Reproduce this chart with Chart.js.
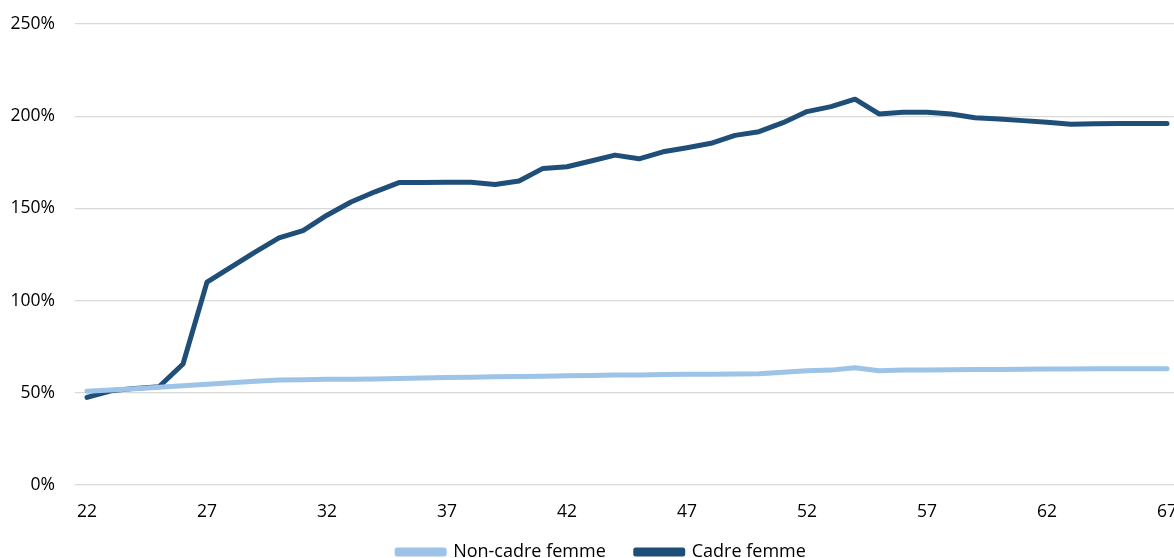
<!DOCTYPE html>
<html lang="fr">
<head>
<meta charset="utf-8">
<title>Cadre / non-cadre femme</title>
<script src="https://cdn.jsdelivr.net/npm/chart.js@4"></script>
<style>
  html, body { margin: 0; padding: 0; background: #ffffff; overflow: hidden; }
  #wrap { width: 1179px; height: 583px; }
</style>
</head>
<body>
<div id="wrap"><canvas id="c" width="1179" height="583"></canvas></div>
<script>
// Âges (axe horizontal)
const ages = [22,23,24,25,26,27,28,29,30,31,32,33,34,35,36,37,38,39,40,41,42,43,44,45,46,47,48,49,50,51,52,53,54,55,56,57,58,59,60,61,62,63,64,65,66,67];

// Séries, en %
const nonCadreFemme = [50.9,51.5,52.2,53.0,53.8,54.6,55.5,56.2,56.9,57.1,
                       57.3,57.4,57.5,57.7,58.0,58.3,58.5,58.7,58.8,59.0,
                       59.2,59.4,59.6,59.7,59.9,60.0,60.1,60.2,60.3,61.1,
                       62.0,62.3,63.6,62.0,62.4,62.4,62.5,62.6,62.7,62.8,
                       62.9,62.9,63.0,63.0,63.1,63.1];
const cadreFemme = [47.5,51.1,52.4,53.3,65.6,110,118.2,126.3,134,138,
                    146.3,153.5,159,164,164,164.2,164.2,163,164.9,171.7,
                    172.6,175.7,178.9,176.9,180.7,182.9,185.3,189.6,191.6,196.5,
                    202.5,205.2,209.2,201.2,202.1,202.1,201.2,199.2,198.5,197.6,
                    196.7,195.6,195.9,196.1,196.1,196.1];

// Graduations de l'axe vertical
const yTicks = [0, 50, 100, 150, 200, 250];
const seriesNames = ['Non-cadre femme', 'Cadre femme'];

const FONT = '"Open Sans", "DejaVu Sans", sans-serif';

// Recale la légende : un peu à droite et plus près de l'axe
const legendShift = {
  id: 'legendShift',
  afterLayout(chart) {
    const lg = chart.legend;
    if (lg) {
      lg.left += 12; lg.right += 12;
      lg.top -= 12; lg.bottom -= 12;
    }
  }
};

new Chart(document.getElementById('c'), {
  type: 'line',
  data: {
    labels: ages,
    datasets: [
      {
        label: seriesNames[0],
        data: nonCadreFemme,
        borderColor: '#9DC3E6',
        backgroundColor: '#9DC3E6',
        borderWidth: 5,
        borderCapStyle: 'round',
        borderJoinStyle: 'round',
        pointRadius: 0,
        tension: 0
      },
      {
        label: seriesNames[1],
        data: cadreFemme,
        borderColor: '#1F4E79',
        backgroundColor: '#1F4E79',
        borderWidth: 5,
        borderCapStyle: 'round',
        borderJoinStyle: 'round',
        pointRadius: 0,
        tension: 0
      }
    ]
  },
  options: {
    responsive: false,
    animation: false,
    events: [],
    layout: { padding: { top: 24, left: 0, right: 0, bottom: 0 } },
    scales: {
      x: {
        type: 'category',
        offset: true,
        grid: { display: false, drawTicks: false },
        border: { display: false },
        afterFit(scale) {
          scale.height = 40;
          scale.paddingLeft = 0;
          scale.paddingRight = 0;
        },
        ticks: {
          autoSkip: false,
          maxRotation: 0,
          padding: 17,
          color: '#000000',
          font: { family: FONT, size: 17.5 },
          callback(value, index) {
            return index % 5 === 0 ? this.getLabelForValue(value) : '';
          }
        }
      },
      y: {
        min: 0,
        max: 250,
        afterFit(scale) {
          scale.width = 75;
          scale.paddingTop = 0;
          scale.paddingBottom = 0;
        },
        afterBuildTicks(scale) { scale.ticks = yTicks.map(v => ({ value: v })); },
        grid: { color: '#D9D9D9', lineWidth: 1.3, drawTicks: false },
        border: { display: false },
        ticks: {
          padding: 20,
          color: '#000000',
          font: { family: FONT, size: 17.5 },
          callback(v) { return v + '%'; }
        }
      }
    },
    plugins: {
      tooltip: { enabled: false },
      legend: {
        position: 'bottom',
        labels: {
          boxWidth: 47,
          boxHeight: 4,
          padding: 30,
          color: '#000000',
          font: { family: FONT, size: 18 }
        }
      }
    }
  },
  plugins: [legendShift]
});
</script>
</body>
</html>
